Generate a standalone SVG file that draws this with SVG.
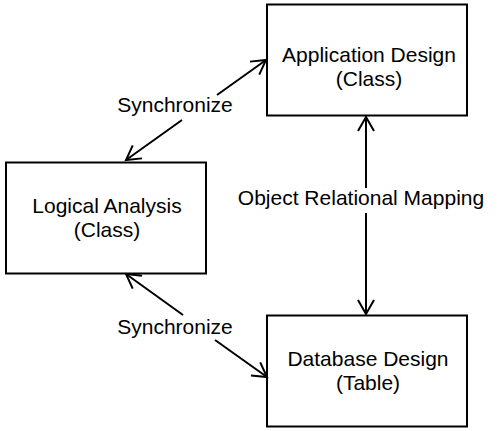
<svg xmlns="http://www.w3.org/2000/svg" width="500" height="431" viewBox="0 0 500 431">
<defs>
<style>
.box{fill:#fff;stroke:#000;stroke-width:2}
.t{font-family:"Liberation Sans",Arial,sans-serif;font-size:21px;fill:#000;text-anchor:middle}
.c{stroke:#000;stroke-width:2;fill:none}
</style>
<marker id="ah" markerUnits="userSpaceOnUse" markerWidth="20" markerHeight="20" viewBox="-16 -10 20 20" refX="0" refY="0" orient="auto-start-reverse" overflow="visible">
<path d="M-14,-8 L0,0 L-14,8" fill="none" stroke="#000" stroke-width="2"/>
</marker>
</defs>
<rect width="500" height="431" fill="#fff"/>
<g id="app">
<rect class="box" x="267" y="4.5" width="200" height="111"/>
<text class="t" x="369" y="62">Application Design</text>
<text class="t" x="369" y="86">(Class)</text>
</g>
<g id="logical">
<rect class="box" x="6" y="162.5" width="200" height="111"/>
<text class="t" x="107" y="213">Logical Analysis</text>
<text class="t" x="107" y="237">(Class)</text>
</g>
<g id="db">
<rect class="box" x="267" y="315.5" width="200" height="111"/>
<text class="t" x="368" y="366">Database Design</text>
<text class="t" x="368" y="390">(Table)</text>
</g>
<g id="connectors">
<line class="c" x1="217" y1="95" x2="266" y2="60" marker-end="url(#ah)"/>
<line class="c" x1="182" y1="120" x2="126" y2="160" marker-end="url(#ah)"/>
<text class="t" x="175" y="112">Synchronize</text>
<line class="c" x1="183" y1="315" x2="126" y2="274" marker-end="url(#ah)"/>
<line class="c" x1="215" y1="340" x2="267" y2="377" marker-end="url(#ah)"/>
<text class="t" x="175" y="334">Synchronize</text>
<line class="c" x1="366" y1="188" x2="366" y2="117" marker-end="url(#ah)"/>
<line class="c" x1="366" y1="213" x2="366" y2="314" marker-end="url(#ah)"/>
<text class="t" x="361" y="205">Object Relational Mapping</text>
</g>
</svg>
